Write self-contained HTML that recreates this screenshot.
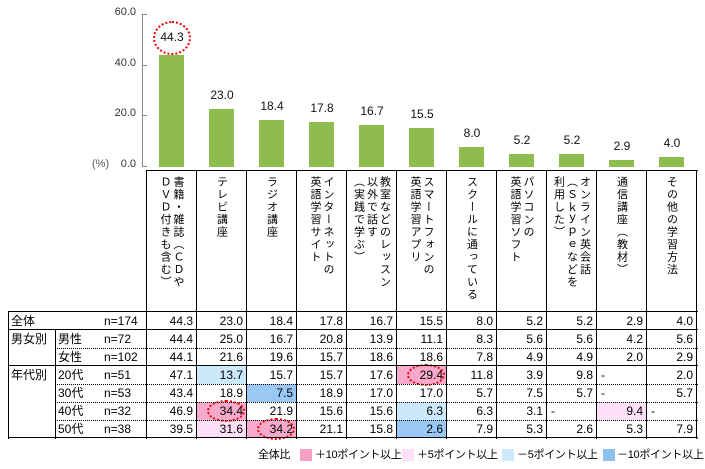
<!DOCTYPE html>
<html><head><meta charset="utf-8">
<style>
body{margin:0;width:705px;height:469px;background:#fff;position:relative;overflow:hidden;font-family:"Liberation Sans","Noto Sans CJK JP",sans-serif;color:#000}
.a{position:absolute}
.bar{position:absolute;background:#8fbc4e;width:25px}
.vl{position:absolute;font-size:12px;color:#111;width:50px;text-align:center}
.yt{position:absolute;font-size:11px;color:#333;width:40px;text-align:right;left:96px}
.hd{position:absolute;top:176px;writing-mode:vertical-rl;font-size:11px;line-height:13px;letter-spacing:1.5px;font-family:"Noto Sans CJK JP",sans-serif}
.c{position:absolute;height:18px;line-height:18px;font-size:12px;text-align:right;box-sizing:border-box;padding-right:4px;width:50px}
.t{position:absolute;font-size:12px;line-height:18px;font-family:"Liberation Sans","Noto Sans CJK JP",sans-serif}
.hl{position:absolute;height:0;border-top:1px dotted #000}
.sl{position:absolute;height:0;border-top:1.5px solid #000}
.vln{position:absolute;width:0;border-left:1.5px solid #000}
.ell{position:absolute;border:2px dotted #e00;border-radius:50%;box-sizing:border-box}
.lg{position:absolute;top:448px;font-size:11px;line-height:14px;white-space:nowrap;letter-spacing:-0.3px}
.sw{position:absolute;top:449px;width:12px;height:12px}
</style></head><body>
<div class="a" style="left:142px;top:14px;width:1px;height:153px;background:#888"></div>
<div class="a" style="left:142px;top:14px;width:5px;height:1px;background:#888"></div>
<div class="a" style="left:142px;top:65px;width:5px;height:1px;background:#888"></div>
<div class="a" style="left:142px;top:115px;width:5px;height:1px;background:#888"></div>
<div class="a" style="left:142px;top:166px;width:5px;height:1px;background:#888"></div>
<div class="yt" style="top:6px">60.0</div>
<div class="yt" style="top:57px">40.0</div>
<div class="yt" style="top:107px">20.0</div>
<div class="yt" style="top:158px">0.0</div>
<div class="a" style="left:92px;top:158px;font-size:11px;color:#555">(%)</div>
<div id="g"></div>
<div class="ell" style="left:153px;top:21px;width:38px;height:34px"></div>
<script>
var vals=[44.3,23.0,18.4,17.8,16.7,15.5,8.0,5.2,5.2,2.9,4.0];
var hdr=["書籍・雑誌（ＣＤや<br>ＤＶＤ付きも含む）","テレビ講座","ラジオ講座","インターネットの<br>英語学習サイト","教室などのレッスン<br>以外で話す<br>（実践で学ぶ）","スマートフォンの<br>英語学習アプリ","スクールに通っている","パソコンの<br>英語学習ソフト","オンライン英会話<br>（Ｓｋｙｐｅなどを<br>利用した）","通信講座（教材）","その他の学習方法"];
var rows=[["全体","","n=174",[44.3,23.0,18.4,17.8,16.7,15.5,8.0,5.2,5.2,2.9,4.0]],
["男女別","男性","n=72",[44.4,25.0,16.7,20.8,13.9,11.1,8.3,5.6,5.6,4.2,5.6]],
["","女性","n=102",[44.1,21.6,19.6,15.7,18.6,18.6,7.8,4.9,4.9,2.0,2.9]],
["年代別","20代","n=51",[47.1,13.7,15.7,15.7,17.6,29.4,11.8,3.9,9.8,"-",2.0]],
["","30代","n=53",[43.4,18.9,7.5,18.9,17.0,17.0,5.7,7.5,5.7,"-",5.7]],
["","40代","n=32",[46.9,34.4,21.9,15.6,15.6,6.3,6.3,3.1,"-",9.4,"-"]],
["","50代","n=38",[39.5,31.6,34.2,21.1,15.8,2.6,7.9,5.3,2.6,5.3,7.9]]];
var col={ "3,1":"#cce8fb","3,5":"#f7a9cb","4,2":"#99c8f5","5,1":"#f7a9cb","5,5":"#cce8fb","5,9":"#fde0f8","6,1":"#fde0f8","6,2":"#f7a9cb","6,5":"#99c8f5"};
var circ=[[3,5],[5,1],[6,2]];
var h="";
for(var i=0;i<11;i++){
 var cx=147+i*50, bh=vals[i]*2.53;
 h+='<div class="bar" style="left:'+(cx+12)+'px;top:'+(167-bh)+'px;height:'+bh+'px"></div>';
 if(i>0) h+='<div class="vl" style="left:'+cx+'px;top:'+(167-bh-21)+'px">'+vals[i].toFixed(1)+'</div>';
 else h+='<div class="vl" style="left:'+cx+'px;top:30px">44.3</div>';
 var nl=hdr[i].split("<br>").length;
 var w=nl*13;
 h+='<div class="hd" style="left:'+(cx+25-w/2)+'px;width:'+w+'px;height:130px">'+hdr[i]+'</div>';
}
for(var r=0;r<7;r++){
 var y=312+r*18;
 var d=rows[r];
 for(var k=0;k<11;k++){
  var bg=col[r+","+k]||"transparent";
  var v=d[3][k];
  if(v==="-") h+='<div class="c" style="left:'+(147+k*50)+'px;top:'+y+'px;text-align:left;padding-left:4px">-</div>';
  else h+='<div class="c" style="left:'+(147+k*50)+'px;top:'+y+'px;background:'+bg+'">'+v.toFixed(1)+'</div>';
 }
 h+='<div class="t" style="left:11px;top:'+y+'px">'+d[0]+'</div>';
 h+='<div class="t" style="left:58px;top:'+y+'px">'+d[1]+'</div>';
 h+='<div class="t" style="left:104px;top:'+y+'px">'+d[2]+'</div>';
}
circ.forEach(function(p){h+='<div class="ell" style="left:'+(147+p[1]*50+10)+'px;top:'+(312+p[0]*18-2)+'px;width:38px;height:22px"></div>';});
[312,330,366,438].forEach(function(y){h+='<div class="sl" style="left:8px;top:'+(y-1)+'px;width:690px"></div>';});
[348,384,402,420].forEach(function(y){h+='<div class="hl" style="left:55px;top:'+y+'px;width:643px"></div>';});
h+='<div class="sl" style="left:147px;top:170px;width:551px"></div>';
h+='<div class="vln" style="left:8px;top:311px;height:128px"></div>';
h+='<div class="vln" style="left:55px;top:329px;height:110px"></div>';
for(var k=0;k<=11;k++) h+='<div class="vln" style="left:'+(147+k*50-1)+'px;top:170px;height:269px"></div>';
document.getElementById("g").innerHTML=h;
</script>
<div class="lg" style="left:258px">全体比</div>
<div class="sw" style="left:300px;background:#f7a0c4"></div><div class="lg" style="left:315px">＋10ポイント以上</div>
<div class="sw" style="left:402px;background:#fde0f8"></div><div class="lg" style="left:417px">＋5ポイント以上</div>
<div class="sw" style="left:502px;background:#cce8fb"></div><div class="lg" style="left:517px">－5ポイント以上</div>
<div class="sw" style="left:603px;background:#8cc0ef"></div><div class="lg" style="left:617px">－10ポイント以上</div>
</body></html>
